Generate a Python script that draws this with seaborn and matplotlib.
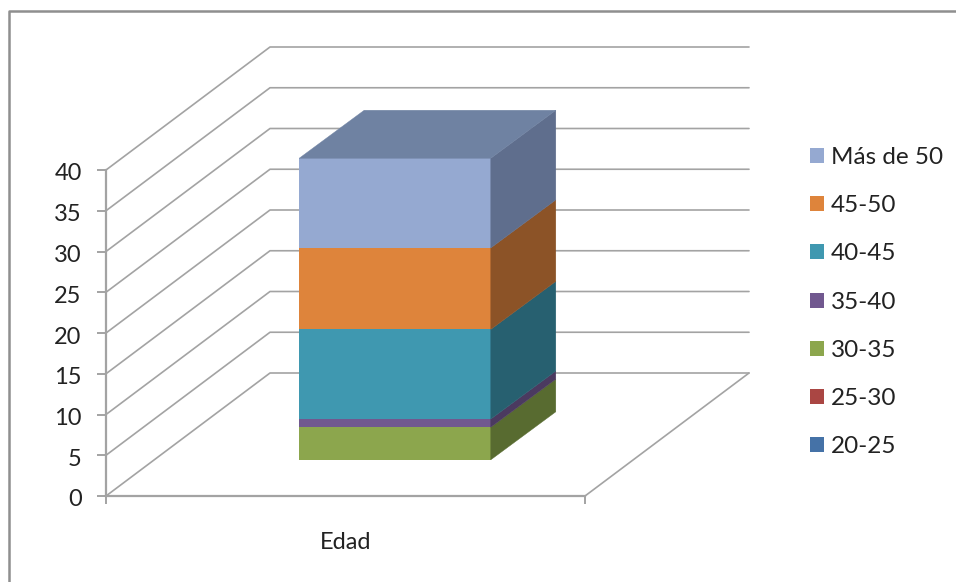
import matplotlib
matplotlib.use("Agg")
import matplotlib.pyplot as plt
from matplotlib.lines import Line2D
from matplotlib.patches import Polygon
from matplotlib.transforms import Affine2D, IdentityTransform
import seaborn as sns

category = "Edad"
age_groups = ["20-25", "25-30", "30-35", "35-40", "40-45", "45-50", "Más de 50"]
respondents = [0, 0, 4, 1, 11, 10, 11]
y_ticks = [0, 5, 10, 15, 20, 25, 30, 35, 40]

front_colors = ["#4572A7", "#AA4643", "#8CA64D", "#71588F", "#3F98B0", "#DE843B", "#95A9D1"]
side_colors = ["#2E4D72", "#73302E", "#586B30", "#4B3A60", "#276070", "#8C5327", "#5F6E8D"]
top_colors = ["#375B86", "#883836", "#6A803B", "#5A4672", "#2F7386", "#A8632C", "#6F82A2"]

W, H = 956, 582
DPI = 100
GRID = "#A3A3A3"
TEXT = "#222222"

sns.set_theme(style="white")
plt.rcParams["font.family"] = ["Lato", "DejaVu Sans"]

fig = plt.figure(figsize=(W / DPI, H / DPI), dpi=DPI, facecolor="white")


def pixel_axes(left, right, bottom, top):
    """Axes placed by pixel edges, measured from the top-left corner of the image."""
    return fig.add_axes([left / W, 1 - bottom / H, (right - left) / W, (bottom - top) / H])


# Outer chart frame: only the left and top edges are visible
fig.add_artist(Line2D([9 / W, 9 / W, 1], [0, 1 - 11 / H, 1 - 11 / H],
                      color="#8F8F8F", lw=1.8, transform=fig.transFigure))

# Front plane of the oblique box carries the axes
ax = pixel_axes(106, 585, 496, 170)
ax.set_xlim(-0.5, 0.5)
ax.set_ylim(0, 40)
ax.patch.set_alpha(0)
for side in ("top", "right"):
    ax.spines[side].set_visible(False)
for side in ("left", "bottom"):
    ax.spines[side].set_color(GRID)
    ax.spines[side].set_linewidth(1.6)
ax.set_yticks(y_ticks)
ax.set_xticks([-0.5, 0.5])
ax.set_xticklabels([])
ax.set_xticks([0], labels=[category], minor=True)
ax.tick_params(axis="y", which="major", left=True, length=6.5, width=1.4, color=GRID,
               labelsize=17, labelcolor=TEXT, pad=11)
ax.tick_params(axis="x", which="major", bottom=True, length=6, width=1.4, color=GRID)
ax.tick_params(axis="x", which="minor", bottom=False, length=0,
               labelsize=17, labelcolor=TEXT, pad=26)

# Nudge the value labels down so they sit level with their ticks
for tick_label in ax.get_yticklabels():
    tick_label.set_transform(tick_label.get_transform() + Affine2D().translate(0, -2))

# Back wall and floor: each gridline runs along the side wall, then across the back
wall = (164, 123)
back = ax.transData + Affine2D().translate(*wall)
for value in y_ticks:
    x0, y0 = ax.transData.transform((-0.5, value))
    x1, y1 = back.transform((-0.5, value))
    x2, y2 = back.transform((0.5, value))
    ax.add_line(Line2D([x0, x1, x2], [y0, y1, y2], color=GRID, lw=1.2,
                       transform=IdentityTransform(), clip_on=False, zorder=1))
x0, y0 = ax.transData.transform((0.5, 0))
x1, y1 = back.transform((0.5, 0))
ax.add_line(Line2D([x0, x1], [y0, y1], color=GRID, lw=1.2,
                   transform=IdentityTransform(), clip_on=False, zorder=1))

# Stacked column, set inside the box on its own transparent axes
bar_ax = pixel_axes(155.5, 634.5, 459.8, 133.8)
base = 0
for group, value, color in zip(age_groups, respondents, front_colors):
    sns.barplot(x=[category], y=[value], bottom=base, width=0.4, color=color,
                saturation=1, label=group, linewidth=0, ax=bar_ax, legend=False)
    base += value
bar_ax.set_xlim(-0.5, 0.5)
bar_ax.set_ylim(0, 40)
bar_ax.axis("off")

# Oblique side and top faces, extruded from the front of each segment
depth = (65, 48)
segments = [p for p in bar_ax.patches]
for i, (patch, side_c, top_c) in enumerate(zip(segments, side_colors, top_colors)):
    if patch.get_height() == 0:
        continue
    x_l, x_r = patch.get_x(), patch.get_x() + patch.get_width()
    y_b, y_t = patch.get_y(), patch.get_y() + patch.get_height()
    (lx, by), (rx, ty) = bar_ax.transData.transform([(x_l, y_b), (x_r, y_t)])
    dx, dy = depth
    bar_ax.add_patch(Polygon([(rx, by), (rx + dx, by + dy), (rx + dx, ty + dy), (rx, ty)],
                             closed=True, fc=side_c, ec=side_c, lw=0.3,
                             transform=IdentityTransform(), clip_on=False))
    if i == len(segments) - 1:
        bar_ax.add_patch(Polygon([(lx, ty), (rx, ty), (rx + dx, ty + dy), (lx + dx, ty + dy)],
                                 closed=True, fc=top_c, ec=top_c, lw=0.3,
                                 transform=IdentityTransform(), clip_on=False))

# Legend reads from the top of the stack downwards
handles, labels = bar_ax.get_legend_handles_labels()
legend = fig.legend(handles[::-1], labels[::-1], loc="upper left",
                    bbox_to_anchor=(810 / W, 1 - 147 / H), frameon=False,
                    fontsize=17.5, labelcolor=TEXT, handlelength=0.58, handleheight=0.58,
                    handletextpad=0.29, labelspacing=1.12, borderpad=0, borderaxespad=0)

fig.savefig("out.png", dpi=DPI, facecolor="white")
